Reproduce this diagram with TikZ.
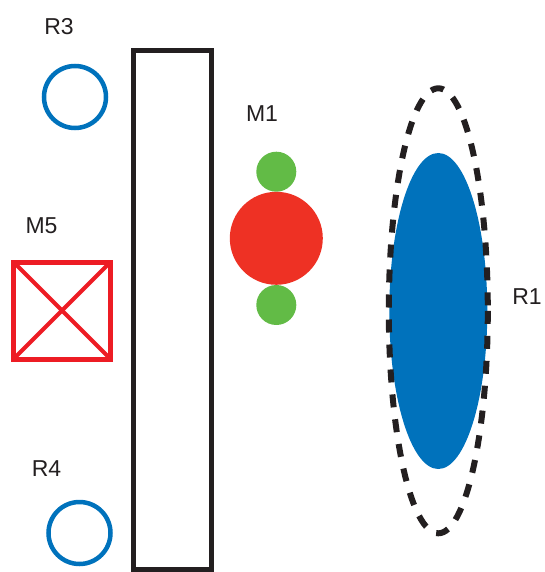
\documentclass[tikz,border=0pt]{standalone}
\usepackage{fontspec}
\setmainfont{Liberation Sans}
\usepackage{tikz}
\usetikzlibrary{calc}
\definecolor{rblue}{RGB}{0,114,188}
\definecolor{mred}{RGB}{238,49,36}
\definecolor{bred}{RGB}{237,28,36}
\definecolor{mgreen}{RGB}{98,187,70}
\definecolor{ink}{RGB}{35,31,32}
\tikzset{lbl/.style={text=ink,inner sep=0pt,font=\fontsize{23}{27}\selectfont}}

\begin{document}
\begin{tikzpicture}[x=1pt,y=-1pt]
				\useasboundingbox (0,0) rectangle (545,572);
				
				\draw[ink, line width=5pt] (133,51) rectangle (211,569);
				
				\node[lbl] (r3) at (59,27) {R3};
				\draw[rblue, line width=4.5pt] (75,97) circle (31);
				
				\node[lbl] (r4) at (46.5,469) {R4};
				\draw[rblue, line width=4.5pt] (79.5,533) circle (31);
				
				\node[lbl] (m5) at (41.5,225.5) {M5};
				\draw[bred, line width=5pt] (13.5,262) rectangle (110.5,359);
				\draw[bred, line width=4pt] (13.5,262) -- (110.5,359);
				\draw[bred, line width=4pt] (13.5,359) -- (110.5,262);
				
				\node[lbl] (m1) at (262,114) {M1};
				\fill[mgreen] (276.3,171.7) circle (20);
				\fill[mgreen] (276.3,305) circle (20);
				\fill[mred] (276.3,238.3) circle (46.5);
				
				\fill[rblue] (438.3,311) ellipse (49 and 158);
				\draw[ink, line width=6pt, dash pattern=on 13pt off 12pt] (438.3,310.8) ellipse (49.5 and 222.5);
				\node[lbl] (r1) at (527,296.5) {R1};
			\end{tikzpicture}
\end{document}
